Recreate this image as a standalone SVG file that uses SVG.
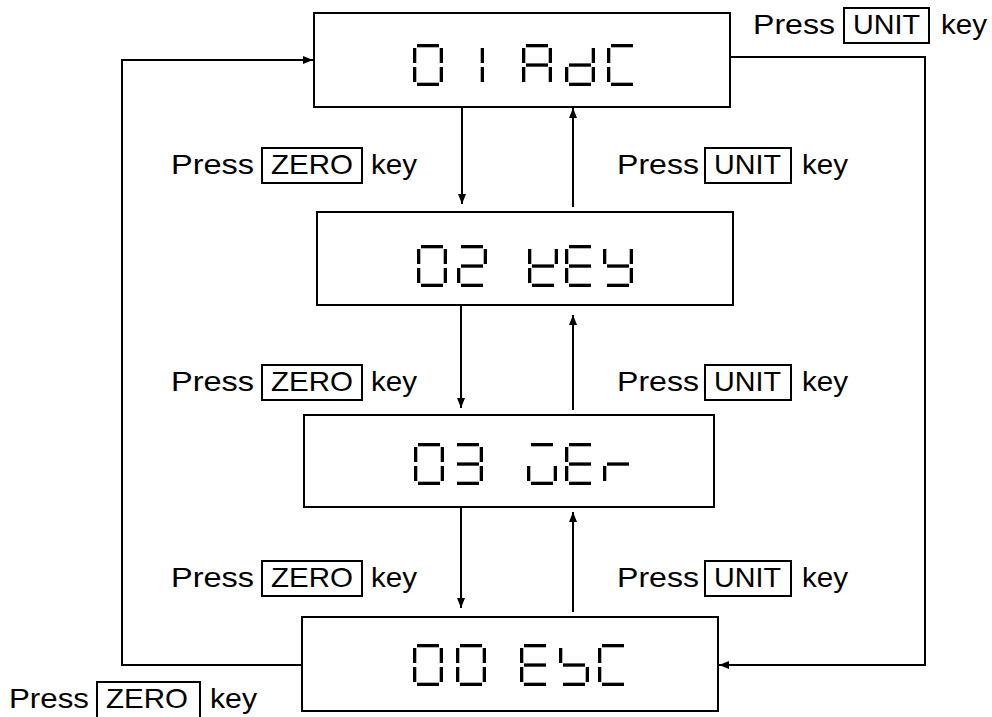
<svg xmlns="http://www.w3.org/2000/svg" width="992" height="717" viewBox="0 0 992 717">
<style>
.box{fill:#fff;stroke:#000;stroke-width:2}
.key{fill:none;stroke:#000;stroke-width:2}
.lbl{font-family:"Liberation Sans",Arial,sans-serif;font-size:27.5px;fill:#000}
.con{fill:none;stroke:#000;stroke-width:2}
.seg{fill:#000}
</style>
<defs>
<marker id="ah" viewBox="0 0 10 8" refX="10" refY="4" markerWidth="10" markerHeight="8" markerUnits="userSpaceOnUse" orient="auto">
<path d="M0,0 L10,4 L0,8 Z" fill="#000"/>
</marker>
<rect id="sa" class="seg" x="4" y="0" width="22" height="3.3"/>
<rect id="sb" class="seg" x="26.7" y="4" width="3.3" height="15"/>
<rect id="sc" class="seg" x="26.7" y="23" width="3.3" height="15"/>
<rect id="sd" class="seg" x="4" y="38.7" width="22" height="3.3"/>
<rect id="se" class="seg" x="0" y="23" width="3.3" height="15"/>
<rect id="sf" class="seg" x="0" y="4" width="3.3" height="15"/>
<rect id="sg" class="seg" x="4" y="19.4" width="22" height="3.3"/>
<g id="g0"><use href="#sa"/><use href="#sb"/><use href="#sc"/><use href="#sd"/><use href="#se"/><use href="#sf"/></g>
<g id="g1"><use href="#sb"/><use href="#sc"/></g>
<g id="g2"><use href="#sa"/><use href="#sb"/><use href="#sg"/><use href="#se"/><use href="#sd"/></g>
<g id="g3"><use href="#sa"/><use href="#sb"/><use href="#sg"/><use href="#sc"/><use href="#sd"/></g>
<g id="gA"><use href="#sa"/><use href="#sb"/><use href="#sc"/><use href="#se"/><use href="#sf"/><use href="#sg"/></g>
<g id="gd"><use href="#sb"/><use href="#sc"/><use href="#sd"/><use href="#se"/><use href="#sg"/></g>
<g id="gC"><use href="#sa"/><use href="#sd"/><use href="#se"/><use href="#sf"/></g>
<g id="gk"><use href="#sf"/><use href="#sb"/><use href="#sg"/><use href="#se"/><use href="#sd"/></g>
<g id="gE"><use href="#sa"/><use href="#sd"/><use href="#se"/><use href="#sf"/><use href="#sg"/></g>
<g id="gY"><use href="#sf"/><use href="#sb"/><use href="#sg"/><use href="#sc"/><use href="#sd"/></g>
<g id="gv"><use href="#sa"/><use href="#sc"/><use href="#sd"/><use href="#se"/></g>
<g id="gr"><use href="#se"/><use href="#sg"/></g>
<g id="gs"><use href="#sf"/><use href="#sg"/><use href="#sc"/><use href="#sd"/></g>
</defs>
<rect width="992" height="717" fill="#fff"/>

<g id="connectors">
<line class="con" x1="462" y1="107" x2="462" y2="204" marker-end="url(#ah)"/>
<line class="con" x1="573" y1="207" x2="573" y2="108" marker-end="url(#ah)"/>
<line class="con" x1="461" y1="305" x2="461" y2="408" marker-end="url(#ah)"/>
<line class="con" x1="573" y1="410" x2="573" y2="315" marker-end="url(#ah)"/>
<line class="con" x1="461" y1="507" x2="461" y2="608" marker-end="url(#ah)"/>
<line class="con" x1="573" y1="612" x2="573" y2="512" marker-end="url(#ah)"/>
<polyline class="con" points="302,665 122,665 122,60 313,60" marker-end="url(#ah)"/>
<polyline class="con" points="730,57 925,57 925,665 719,665" marker-end="url(#ah)"/>
</g>

<g id="node-01AdC">
<title>01 AdC</title>
<rect class="box" x="314" y="13" width="416" height="94"/>
<use href="#g0" x="413" y="44"/>
<use href="#g1" x="454" y="44"/>
<use href="#gA" x="522" y="44"/>
<use href="#gd" x="565" y="44"/>
<use href="#gC" x="607" y="44"/>
</g>

<g id="node-02kEY">
<title>02 kEY</title>
<rect class="box" x="317" y="212" width="416" height="93"/>
<use href="#g0" x="417" y="245"/>
<use href="#g2" x="457" y="245"/>
<use href="#gk" x="528" y="245"/>
<use href="#gE" x="565" y="245"/>
<use href="#gY" x="603" y="245"/>
</g>

<g id="node-03vEr">
<title>03 vEr</title>
<rect class="box" x="304" y="415" width="410" height="92"/>
<use href="#g0" x="414" y="443"/>
<use href="#g3" x="453" y="443"/>
<use href="#gv" x="527" y="443"/>
<use href="#gE" x="565" y="443"/>
<use href="#gr" x="603" y="443"/>
</g>

<g id="node-00EsC">
<title>00 EsC</title>
<rect class="box" x="302" y="617" width="416" height="94"/>
<use href="#g0" x="413" y="644"/>
<use href="#g0" x="456" y="644"/>
<use href="#gE" x="520" y="644"/>
<use href="#gs" x="559" y="644"/>
<use href="#gC" x="598" y="644"/>
</g>

<g id="labels">
<text class="lbl" x="753" y="34" textLength="82" lengthAdjust="spacingAndGlyphs">Press</text>
<rect class="key" x="844" y="8" width="85" height="35"/>
<text class="lbl" x="853" y="34" textLength="67" lengthAdjust="spacingAndGlyphs">UNIT</text>
<text class="lbl" x="941" y="34" textLength="46" lengthAdjust="spacingAndGlyphs">key</text>

<text class="lbl" x="171" y="174" textLength="83" lengthAdjust="spacingAndGlyphs">Press</text>
<rect class="key" x="262" y="148" width="100" height="35"/>
<text class="lbl" x="271" y="174" textLength="82" lengthAdjust="spacingAndGlyphs">ZERO</text>
<text class="lbl" x="371" y="174" textLength="46" lengthAdjust="spacingAndGlyphs">key</text>
<text class="lbl" x="617" y="174" textLength="82" lengthAdjust="spacingAndGlyphs">Press</text>
<rect class="key" x="705" y="148" width="86" height="35"/>
<text class="lbl" x="714" y="174" textLength="67" lengthAdjust="spacingAndGlyphs">UNIT</text>
<text class="lbl" x="802" y="174" textLength="46" lengthAdjust="spacingAndGlyphs">key</text>

<text class="lbl" x="171" y="391" textLength="83" lengthAdjust="spacingAndGlyphs">Press</text>
<rect class="key" x="262" y="365" width="100" height="35"/>
<text class="lbl" x="271" y="391" textLength="82" lengthAdjust="spacingAndGlyphs">ZERO</text>
<text class="lbl" x="371" y="391" textLength="46" lengthAdjust="spacingAndGlyphs">key</text>
<text class="lbl" x="617" y="391" textLength="82" lengthAdjust="spacingAndGlyphs">Press</text>
<rect class="key" x="705" y="365" width="86" height="35"/>
<text class="lbl" x="714" y="391" textLength="67" lengthAdjust="spacingAndGlyphs">UNIT</text>
<text class="lbl" x="802" y="391" textLength="46" lengthAdjust="spacingAndGlyphs">key</text>

<text class="lbl" x="171" y="587" textLength="83" lengthAdjust="spacingAndGlyphs">Press</text>
<rect class="key" x="262" y="561" width="100" height="35"/>
<text class="lbl" x="271" y="587" textLength="82" lengthAdjust="spacingAndGlyphs">ZERO</text>
<text class="lbl" x="371" y="587" textLength="46" lengthAdjust="spacingAndGlyphs">key</text>
<text class="lbl" x="617" y="587" textLength="82" lengthAdjust="spacingAndGlyphs">Press</text>
<rect class="key" x="705" y="561" width="86" height="35"/>
<text class="lbl" x="714" y="587" textLength="67" lengthAdjust="spacingAndGlyphs">UNIT</text>
<text class="lbl" x="802" y="587" textLength="46" lengthAdjust="spacingAndGlyphs">key</text>

<text class="lbl" x="9" y="708" textLength="80" lengthAdjust="spacingAndGlyphs">Press</text>
<rect class="key" x="97" y="682" width="103" height="40"/>
<text class="lbl" x="106" y="708" textLength="82" lengthAdjust="spacingAndGlyphs">ZERO</text>
<text class="lbl" x="210" y="708" textLength="47" lengthAdjust="spacingAndGlyphs">key</text>
</g>
</svg>
